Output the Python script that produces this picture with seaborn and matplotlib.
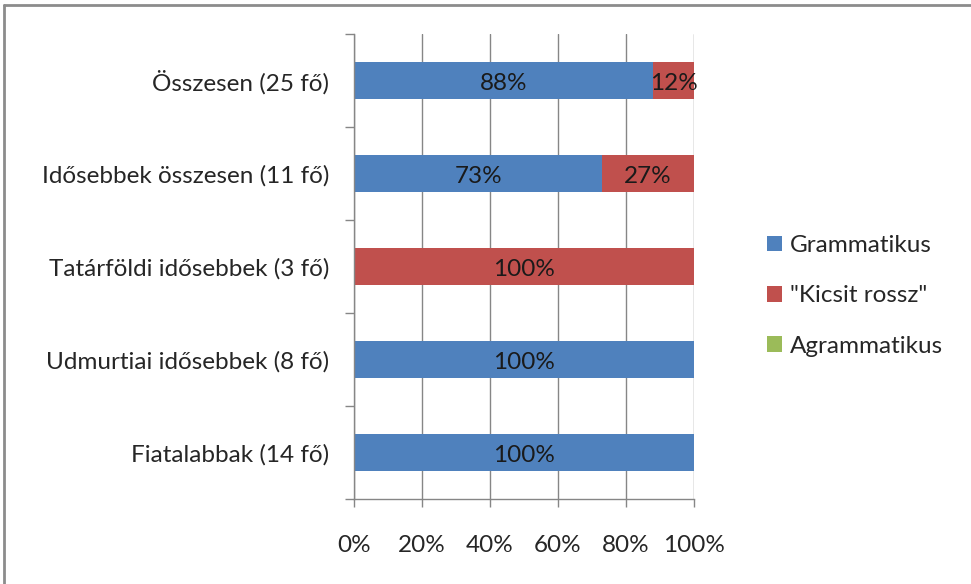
import pandas as pd
import matplotlib.pyplot as plt
import seaborn as sns
from matplotlib.lines import Line2D
from matplotlib.patches import Patch

# data, top to bottom as in the chart
categories = ['Összesen (25 fő)', 'Idősebbek összesen (11 fő)', 'Tatárföldi idősebbek (3 fő)',
              'Udmurtiai idősebbek (8 fő)', 'Fiatalabbak (14 fő)']
grammatikus = [88, 73, 0, 100, 100]
kicsit_rossz = [12, 27, 100, 0, 0]
agrammatikus = [0, 0, 0, 0, 0]
series_names = ['Grammatikus', '"Kicsit rossz"', 'Agrammatikus']
colors = ['#4F81BD', '#C0504D', '#9BBB59']

df = pd.DataFrame({'cat': categories, 'g': grammatikus, 'k': kicsit_rossz, 'a': agrammatikus})
df['gk'] = df['g'] + df['k']
df['gka'] = df['gk'] + df['a']

sns.set_style('white')
plt.rcParams['font.family'] = ['Lato', 'DejaVu Sans']
fs = 17.5

fig = plt.figure(figsize=(9.71, 5.84), dpi=100)
ax = fig.add_axes([354/971, 1-499/584, 340/971, 465/584])

# stacked bars drawn as cumulative layers
for col, c in zip(['gka', 'gk', 'g'], colors[::-1]):
    sns.barplot(data=df, y='cat', x=col, order=categories, color=c, width=0.39,
                saturation=1, ax=ax, orient='h', linewidth=0)

# segment labels
for i, row in df.iterrows():
    left = 0
    for v in [row['g'], row['k'], row['a']]:
        if v > 0:
            ax.text(left + v/2, i + 0.03, f'{v}%', ha='center', va='center', fontsize=fs, color='#1a1a1a')
        left += v

ax.set_xlim(0, 100)
ax.set_ylim(4.5, -0.5)
ax.set_xlabel('')
ax.set_ylabel('')
ax.set_xticks(range(0, 101, 20))
ax.set_xticklabels([f'{t}%' for t in range(0, 101, 20)], fontsize=fs)
ax.xaxis.grid(True, color='#868686', linewidth=1)
ax.set_axisbelow(True)

ax.set_yticks([-0.5, 0.5, 1.5, 2.5, 3.5, 4.5])
ax.set_yticklabels([])
ax.set_yticks(range(len(categories)), minor=True)
ax.set_yticklabels(categories, minor=True, fontsize=fs)
ax.tick_params(axis='y', which='minor', length=0, pad=18)
ax.tick_params(axis='y', which='major', length=6.5, width=1, color='#868686', direction='out', left=True)
ax.tick_params(axis='x', length=6, width=1, color='#868686', direction='out', pad=20, bottom=True)

for s in ['top', 'right']:
    ax.spines[s].set_visible(False)
for s in ['left', 'bottom']:
    ax.spines[s].set_color('#868686')
    ax.spines[s].set_linewidth(1)

handles = [Patch(facecolor=c, edgecolor='none') for c in colors]
fig.legend(handles, series_names, loc='center left', bbox_to_anchor=(767/971, 1-296/584),
           frameon=False, fontsize=fs, handlelength=0.6, handleheight=0.6,
           handletextpad=0.35, labelspacing=1.2, borderaxespad=0, borderpad=0)

# chart border (top and left visible)
fig.add_artist(Line2D([4/971, 1], [1-5/584, 1-5/584], color='#8c8c8c', linewidth=2))
fig.add_artist(Line2D([4/971, 4/971], [0, 1-5/584], color='#8c8c8c', linewidth=2))

fig.savefig('out.png', dpi=100)
